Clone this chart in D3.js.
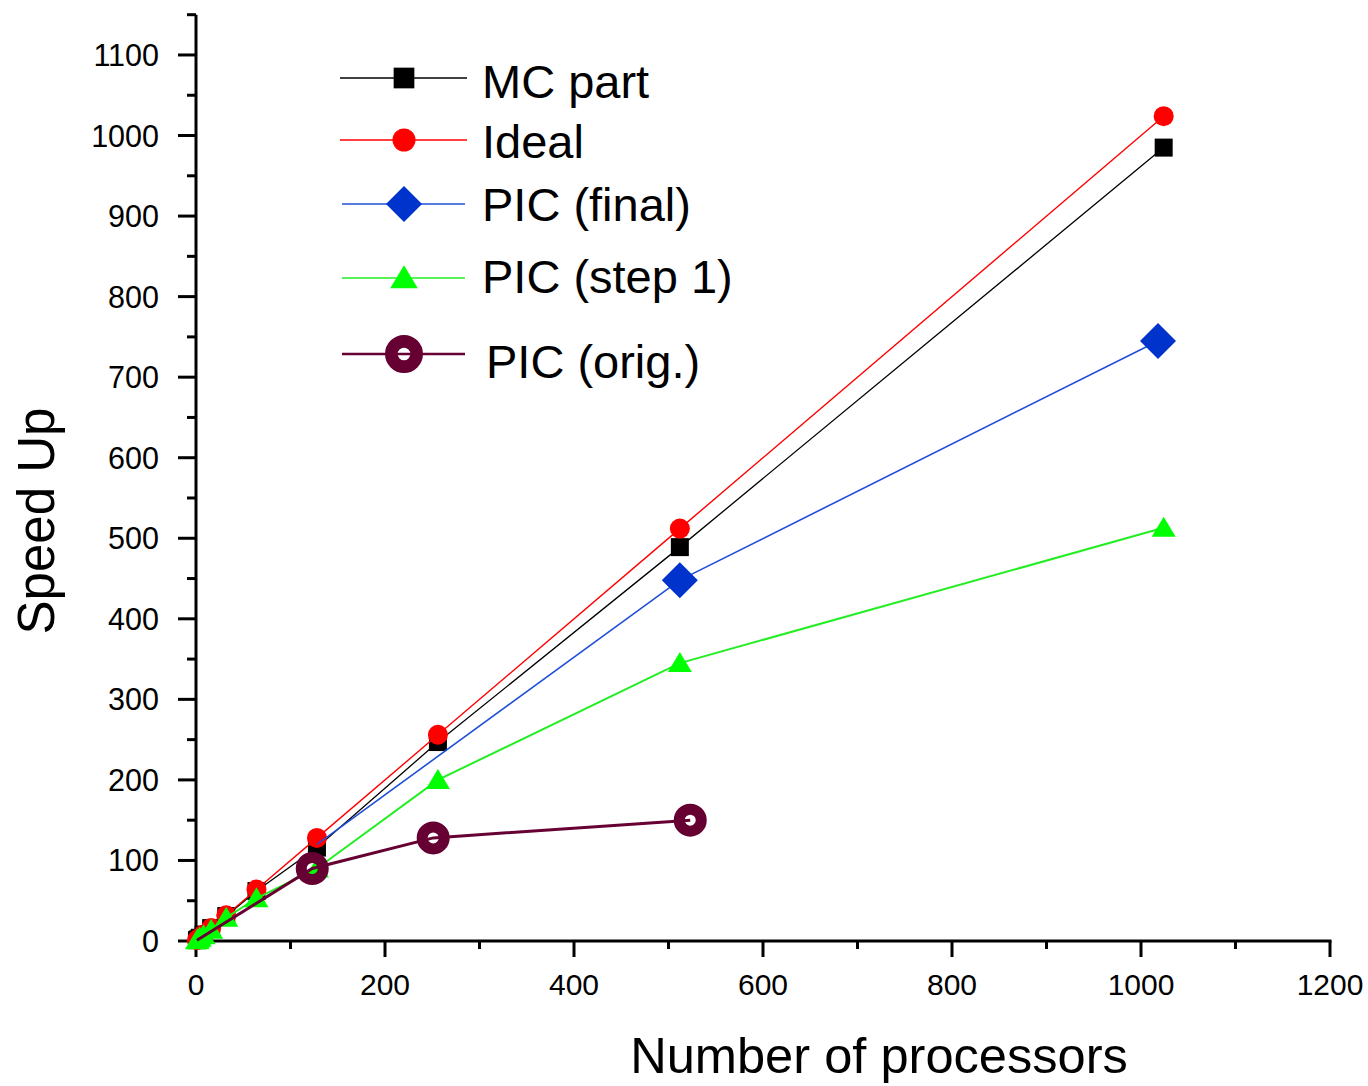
<!DOCTYPE html>
<html>
<head>
<meta charset="utf-8">
<script src="https://cdn.jsdelivr.net/npm/d3@7"></script>
<style>
  html, body { margin: 0; padding: 0; background: #fff; }
  svg text { font-family: "Liberation Sans", Arial, Helvetica, sans-serif; fill: #000; }
</style>
</head>
<body>
<svg id="chart" width="1368" height="1086"></svg>
<script>
// ---- data ----
const procs       = [1, 2, 4, 8, 16, 32, 64, 128, 256, 512, 1024];
const mcSpeed     = [1, 2, 4, 8, 16, 31, 62, 116, 247, 489, 985];
const idealSpeed  = [1, 2, 4, 8, 16, 32, 64, 128, 256, 512, 1024];
const step1Speed  = [1, 2, 4, 7, 14, 29, 53, 90, 200, 345, 513];
const finalProcs  = [128, 512, 1018];
const finalSpeed  = [120, 448, 745];
const origProcs   = [1, 123, 251, 523];
const origSpeed   = [1, 90, 128, 150];
const seriesNames = ["MC part", "Ideal", "PIC (final)", "PIC (step 1)", "PIC (orig.)"];
const xTicks = [0, 200, 400, 600, 800, 1000, 1200];
const yTicks = [0, 100, 200, 300, 400, 500, 600, 700, 800, 900, 1000, 1100];
const xLabel = "Number of processors";
const yLabel = "Speed Up";

// ---- setup ----
const svg = d3.select("#chart");
const x = d3.scaleLinear().domain([0, 1200]).range([196, 1330]);
const y = d3.scaleLinear().domain([0, 1150]).range([941, 14.7]);

const series = [
  { name: seriesNames[0], xs: procs, ys: mcSpeed, color: "#000000", fill: "#000000", lw: 1.3, shape: "square", markFrom: 0 },
  { name: seriesNames[1], xs: procs, ys: idealSpeed, color: "#ff0000", fill: "#ff0000", lw: 1.4, shape: "circle", markFrom: 0 },
  { name: seriesNames[2], xs: finalProcs, ys: finalSpeed, color: "#1f4fd6", fill: "#0033cc", lw: 1.6, shape: "diamond", markFrom: 1 },
  { name: seriesNames[3], xs: procs, ys: step1Speed, color: "#22ee22", fill: "#00ff00", lw: 2, shape: "triangle", markFrom: 0 },
  { name: seriesNames[4], xs: origProcs, ys: origSpeed, color: "#660033", fill: "#660033", lw: 3, shape: "ring", markFrom: 1 }
];

function drawMarker(g, shape, cx, cy, s, color) {
  if (shape === "square") {
    g.append("rect").attr("x", cx - 9 * s).attr("y", cy - 9 * s)
      .attr("width", 18 * s).attr("height", 18 * s).attr("fill", color);
  } else if (shape === "circle") {
    g.append("circle").attr("cx", cx).attr("cy", cy).attr("r", 10 * s).attr("fill", color);
  } else if (shape === "diamond") {
    const r = 18 * s;
    g.append("path").attr("d", `M${cx},${cy - r}L${cx + r},${cy}L${cx},${cy + r}L${cx - r},${cy}Z`).attr("fill", color);
  } else if (shape === "triangle") {
    const w = 12 * s, h = 20 * s;
    g.append("path").attr("d", `M${cx},${cy - h * 0.55}L${cx + w},${cy + h * 0.45}L${cx - w},${cy + h * 0.45}Z`).attr("fill", color);
  } else if (shape === "ring") {
    g.append("circle").attr("cx", cx).attr("cy", cy).attr("r", 11 * s)
      .attr("fill", "none").attr("stroke", color).attr("stroke-width", 11 * s);
  }
}

// ---- axes ----
const axisW = 3;
const xAxis = svg.append("g").attr("transform", "translate(0,941)");
xAxis.append("line").attr("x1", x(0) - 1.5).attr("x2", x(1200) + 1.5).attr("y1", 0).attr("y2", 0)
  .attr("stroke", "#000").attr("stroke-width", axisW);
d3.range(0, 1201, 100).forEach(v => {
  const major = v % 200 === 0;
  xAxis.append("line").attr("x1", x(v)).attr("x2", x(v)).attr("y1", 0).attr("y2", major ? 16 : 8)
    .attr("stroke", "#000").attr("stroke-width", axisW);
});
xTicks.forEach(v => {
  xAxis.append("text").attr("x", x(v)).attr("y", 54).attr("text-anchor", "middle")
    .attr("font-size", 30).text(v);
});

const yAxis = svg.append("g").attr("transform", `translate(${x(0)},0)`);
yAxis.append("line").attr("x1", 0).attr("x2", 0).attr("y1", y(0) + 1.5).attr("y2", y(1150))
  .attr("stroke", "#000").attr("stroke-width", axisW);
d3.range(0, 1151, 50).forEach(v => {
  const major = v % 100 === 0;
  yAxis.append("line").attr("x1", 0).attr("x2", major ? -18 : -9).attr("y1", y(v)).attr("y2", y(v))
    .attr("stroke", "#000").attr("stroke-width", axisW);
});
yTicks.forEach(v => {
  yAxis.append("text").attr("x", -37).attr("y", y(v)).attr("dy", "0.36em").attr("text-anchor", "end")
    .attr("font-size", 30.5).text(v);
});

svg.append("text").attr("x", 879).attr("y", 1073).attr("text-anchor", "middle")
  .attr("font-size", 50.6).text(xLabel);
svg.append("text").attr("transform", "translate(54,521) rotate(-90)").attr("text-anchor", "middle")
  .attr("font-size", 51).text(yLabel);

// ---- series ----
const plot = svg.append("g");
const line = d3.line().x(d => x(d[0])).y(d => y(d[1]));
series.forEach(s => {
  const pts = s.xs.map((v, i) => [v, s.ys[i]]);
  const g = plot.append("g");
  g.append("path").attr("d", line(pts)).attr("fill", "none")
    .attr("stroke", s.color).attr("stroke-width", s.lw);
  pts.forEach((p, i) => {
    if (i >= s.markFrom) drawMarker(g, s.shape, x(p[0]), y(p[1]), 1, s.fill);
  });
});

// ---- legend ----
const legendRows = [78, 140, 204, 278, 354];
const legendTextY = [98, 158, 221, 293, 378];
const legendTextX = [482, 482, 482, 482, 486];
const legend = svg.append("g");
series.forEach((s, i) => {
  const ly = legendRows[i];
  legend.append("line").attr("x1", i < 2 ? 340 : 342).attr("x2", i < 2 ? 467 : 465)
    .attr("y1", ly).attr("y2", ly).attr("stroke", s.color).attr("stroke-width", s.lw === 3 ? 2.5 : 1.5);
  drawMarker(legend, s.shape, 404, ly, s.shape === "diamond" ? 1 : 1.15, s.fill);
  legend.append("text").attr("x", legendTextX[i]).attr("y", legendTextY[i])
    .attr("font-size", 47).text(s.name);
});
</script>
</body>
</html>
